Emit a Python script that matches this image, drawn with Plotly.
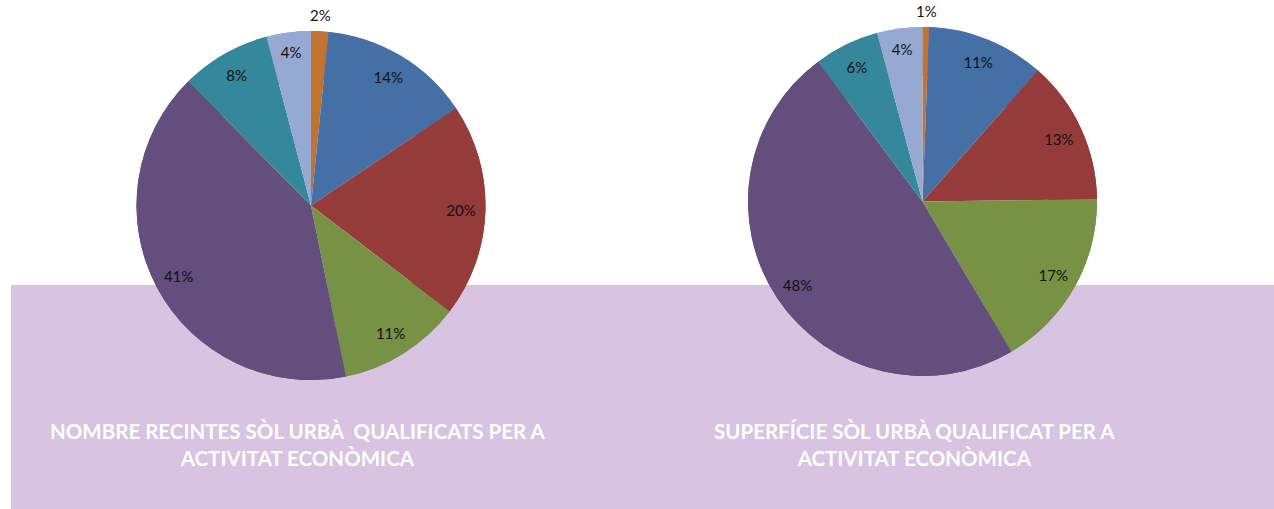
import math
import plotly.graph_objects as go

# Data (share of each category, clockwise from 12 o'clock)
categories = ["Cat A", "Cat B", "Cat C", "Cat D", "Cat E", "Cat F", "Cat G"]
recintes = [1.6, 14.0, 19.8, 11.4, 40.8, 8.3, 4.1]
superficie = [0.6, 10.9, 13.3, 16.7, 48.3, 6.0, 4.2]
title_recintes = "NOMBRE RECINTES SÒL URBÀ  QUALIFICATS PER A<br>ACTIVITAT ECONÒMICA"
title_superficie = "SUPERFÍCIE SÒL URBÀ QUALIFICAT PER A<br>ACTIVITAT ECONÒMICA"

colors = ["#C3732F", "#4470A5", "#953C3A", "#779244", "#634E7E", "#35879B", "#96A9D2"]

W, H = 1274, 509
LABEL_FONT = dict(family="Lato", size=15, color="#111111")

# pie boxes in pixels: (left, right, top, bottom)
pies = [
    (recintes, (136.5, 485.5, 31, 380)),
    (superficie, (748, 1097, 27, 376)),
]

def px_dom(x0, x1, ytop, ybot):
    return dict(x=[x0 / W, x1 / W], y=[(H - ybot) / H, (H - ytop) / H])

fig = go.Figure()
for vals, (x0, x1, yt, yb) in pies:
    dom = px_dom(x0, x1, yt, yb)
    small = [v < 2 for v in vals]
    # solid base pie
    fig.add_trace(go.Pie(
        labels=categories, values=vals, sort=False, direction="clockwise", rotation=0,
        marker=dict(colors=colors, line=dict(width=0)), textinfo="none",
        domain=dom, showlegend=False, hoverinfo="label+percent",
    ))
    # ring on top carrying the labels near the rim
    fig.add_trace(go.Pie(
        labels=categories, values=vals, sort=False, direction="clockwise", rotation=0,
        hole=0.72,
        marker=dict(colors=colors, line=dict(width=0)),
        texttemplate="%{percent:.0%}",
        textposition=["none" if s else "inside" for s in small],
        insidetextorientation="horizontal",
        textfont=LABEL_FONT,
        domain=dom, showlegend=False, hoverinfo="skip",
    ))
    # labels of the tiny slices sit just above the rim, at the slice mid-angle
    cx, cy, r = (x0 + x1) / 2, (yt + yb) / 2, (x1 - x0) / 2
    total = sum(vals)
    cum = 0.0
    for v, s in zip(vals, small):
        if s:
            ang = 2 * math.pi * (cum + v / 2) / total
            lx = cx + (r + 16) * math.sin(ang)
            ly = cy - (r + 16) * math.cos(ang)
            fig.add_annotation(text=f"{round(100 * v / total)}%", xref="paper", yref="paper",
                               x=lx / W, y=(H - ly) / H, showarrow=False,
                               xanchor="center", yanchor="middle", font=LABEL_FONT)
        cum += v

fig.add_shape(type="rect", xref="paper", yref="paper",
              x0=11 / W, x1=1.0, y0=0, y1=(H - 285) / H,
              fillcolor="#D8C3E2", line=dict(width=0), layer="below")

for txt, xc in [(title_recintes, 297), (title_superficie, 914.5)]:
    fig.add_annotation(text=txt, xref="paper", yref="paper", x=xc / W, y=(H - 444) / H,
                       showarrow=False, xanchor="center", yanchor="middle",
                       font=dict(family="Lato", size=20.5, color="white", weight="bold"),
                       align="center")

fig.update_layout(width=W, height=H, margin=dict(l=0, r=0, t=0, b=0, autoexpand=False),
                  paper_bgcolor="white", plot_bgcolor="white")
fig.write_html("out.html", config={"displayModeBar": False},
               post_script="document.body.style.margin='0';document.body.style.overflow='hidden';")
